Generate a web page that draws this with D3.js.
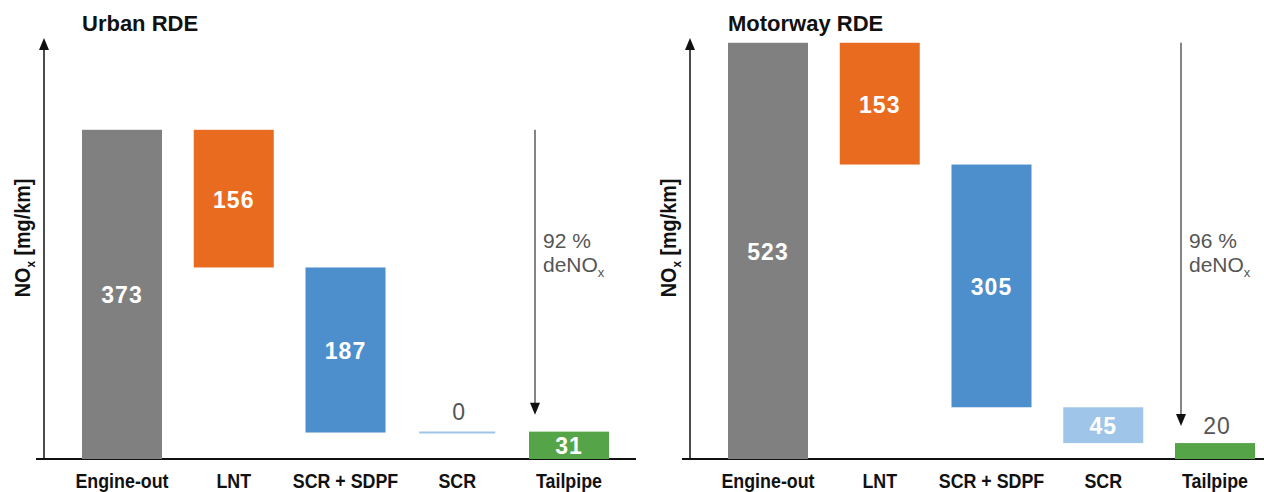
<!DOCTYPE html>
<html lang="en">
<head>
  <meta charset="UTF-8" />
  <title>NOx waterfall</title>
  <script src="https://d3js.org/d3.v7.min.js"></script>
  <style>
    body { margin: 0; background: #fff; }
    .title { font-family: "Liberation Sans", Arial, sans-serif; font-weight: bold; font-size: 22px; fill: #111; }
    .cat { font-family: "Liberation Sans", Arial, sans-serif; font-weight: bold; font-size: 21px; fill: #111; }
    .ylab { font-family: "Liberation Sans", Arial, sans-serif; font-weight: bold; font-size: 22px; fill: #111; }
    .val { font-family: "Liberation Sans", Arial, sans-serif; font-weight: bold; font-size: 23px; letter-spacing: 1px; fill: #fff; }
    .val.out { font-weight: normal; fill: #555; }
    .note { font-family: "Liberation Sans", Arial, sans-serif; font-size: 21px; fill: #555; }
  </style>
</head>
<body>
  <svg id="chart" width="1264" height="492"></svg>

  <script>
    const categories = ["Engine-out", "LNT", "SCR + SDPF", "SCR", "Tailpipe"];
    const urbanValues = [373, 156, 187, 0, 31];
    const motorwayValues = [523, 153, 305, 45, 20];
    const titles = ["Urban RDE", "Motorway RDE"];
    const deNOx = [92, 96];
    const yMax = [477, 529];

    const colors = ["#808080", "#e96b20", "#4d8fcc", "#9fc5e8", "#55a447"];
    const svg = d3.select("#chart");
    const panelOffset = [0, 646];
    const baseY = 459, topY = 38;

    [urbanValues, motorwayValues].forEach((values, p) => {
      const g = svg.append("g").attr("transform", `translate(${panelOffset[p]},0)`);

      const x = d3.scalePoint().domain(categories).range([122, 569]);
      const y = d3.scaleLinear().domain([0, yMax[p]]).range([baseY, topY]);
      const bw = 80;

      // waterfall start/end
      let level = values[0];
      const bars = categories.map((c, i) => {
        if (i === 0 || i === categories.length - 1) return { c, v: values[i], lo: 0, hi: values[i], i };
        const b = { c, v: values[i], lo: level - values[i], hi: level, i };
        level -= values[i];
        return b;
      });

      // axes
      g.append("line").attr("x1", 36).attr("x2", 636).attr("y1", baseY).attr("y2", baseY)
        .attr("stroke", "#111").attr("stroke-width", 2);
      g.append("line").attr("x1", 44).attr("x2", 44).attr("y1", baseY).attr("y2", topY + 8)
        .attr("stroke", "#111").attr("stroke-width", 1.5);
      g.append("path").attr("d", `M44,${topY} L39,${topY + 12} L49,${topY + 12} Z`).attr("fill", "#111");

      g.append("text").attr("class", "title").attr("x", 82).attr("y", 31).text(titles[p]);

      const yl = g.append("text").attr("class", "ylab")
        .attr("transform", "translate(30,238) rotate(-90) scale(0.9,1)").attr("text-anchor", "middle");
      yl.append("tspan").text("NO");
      yl.append("tspan").attr("dy", 5).attr("font-size", 13).text("x");
      yl.append("tspan").attr("dy", -5).text(" [mg/km]");

      // bars
      bars.forEach(b => {
        const h = y(b.lo) - y(b.hi);
        if (b.v === 0) {
          g.append("line").attr("x1", x(b.c) - 38).attr("x2", x(b.c) + 38)
            .attr("y1", y(b.hi)).attr("y2", y(b.hi))
            .attr("stroke", colors[b.i]).attr("stroke-width", 2);
        } else {
          g.append("rect").attr("x", x(b.c) - bw / 2).attr("width", bw)
            .attr("y", y(b.hi)).attr("height", h).attr("fill", colors[b.i]);
        }
        const inside = h >= 22;
        g.append("text").attr("class", inside ? "val" : "val out")
          .attr("text-anchor", "middle")
          .attr("x", x(b.c) + (inside ? 0 : 2))
          .attr("y", inside ? (y(b.lo) + y(b.hi)) / 2 + 9 : y(b.hi) - (b.v === 0 ? 13 : 9))
          .text(b.v);
      });

      // deNOx arrow
      const ax = x("Tailpipe") - 34;
      const tail = bars[bars.length - 1];
      const tipY = y(tail.hi) - 17;
      g.append("line").attr("x1", ax).attr("x2", ax).attr("y1", y(values[0])).attr("y2", tipY - 10)
        .attr("stroke", "#333").attr("stroke-width", 1.2);
      g.append("path").attr("d", `M${ax},${tipY} L${ax - 5},${tipY - 12} L${ax + 5},${tipY - 12} Z`).attr("fill", "#111");

      g.append("text").attr("class", "note").attr("x", ax + 8).attr("y", 248).text(`${deNOx[p]} %`);
      const dn = g.append("text").attr("class", "note").attr("x", ax + 8).attr("y", 272);
      dn.append("tspan").text("deNO");
      dn.append("tspan").attr("dy", 5).attr("font-size", 13).text("x");

      // category labels
      g.selectAll(".cat").data(categories).join("text")
        .attr("class", "cat").attr("text-anchor", "middle")
        .attr("transform", d => `translate(${x(d)},488) scale(0.85,1)`).text(d => d);
    });
  </script>
</body>
</html>
